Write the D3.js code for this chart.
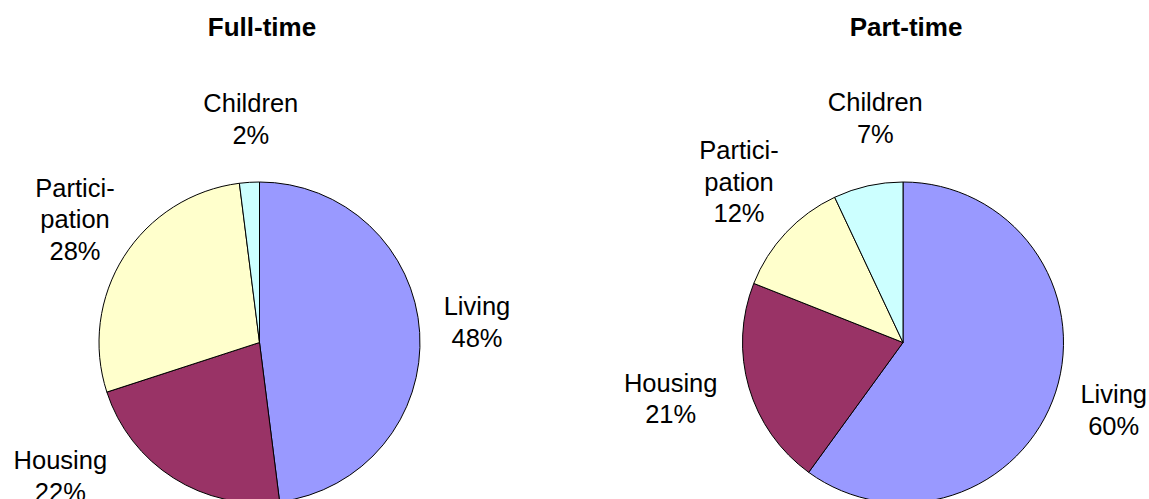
<!DOCTYPE html>
<html>
<head>
<meta charset="utf-8">
<script src="https://cdn.jsdelivr.net/npm/d3@7"></script>
<style>
  html, body { margin: 0; padding: 0; background: #ffffff; }
  svg { display: block; }
  text { font-family: "Liberation Sans", Arial, sans-serif; fill: #000; }
</style>
</head>
<body>
<svg id="chart" width="1149" height="499"></svg>
<script>
// ---- data ----
const categories = ["Living", "Housing", "Participation", "Children"];
const labelLines = [["Living"], ["Housing"], ["Partici-", "pation"], ["Children"]];
const chartTitles = ["Full-time", "Part-time"];
const fullTimeValues = [48, 22, 28, 2];
const partTimeValues = [60, 21, 12, 7];
const colors = ["#9999FF", "#993366", "#FFFFCC", "#CCFFFF"];

// ---- layout ----
const W = 1149, H = 499;
const radius = 160.5;
const panels = [
  { title: chartTitles[0], values: fullTimeValues, cx: 259.5, cy: 342.5, titleX: 262,
    labelOffsets: [[217.5, -27.5], [-199.2, 126.8], [-184.5, -145.8], [-8.7, -230.5]] },
  { title: chartTitles[1], values: partTimeValues, cx: 903, cy: 342.5, titleX: 906,
    labelOffsets: [[210.7, 60.8], [-232.3, 49.2], [-164, -183.2], [-27.7, -231.5]] }
];
const lineGap = 31.5;

const svg = d3.select("#chart");
const pie = d3.pie().sort(null).value(d => d.value);
const arc = d3.arc().innerRadius(0).outerRadius(radius);
const color = d3.scaleOrdinal().domain(categories).range(colors);

panels.forEach(p => {
  const data = categories.map((c, i) => ({ cat: c, value: p.values[i], lines: labelLines[i] }));
  const total = d3.sum(p.values);

  svg.append("text")
    .attr("x", p.titleX)
    .attr("y", 36)
    .attr("text-anchor", "middle")
    .style("font-size", "26px")
    .style("font-weight", "bold")
    .text(p.title);

  const g = svg.append("g").attr("transform", `translate(${p.cx},${p.cy})`);
  g.selectAll("path")
    .data(pie(data))
    .join("path")
    .attr("d", arc)
    .attr("fill", d => color(d.data.cat))
    .attr("stroke", "#000")
    .attr("stroke-width", 1)
    .attr("stroke-linejoin", "round");

  const labels = g.selectAll("text.lbl")
    .data(pie(data))
    .join("text")
    .attr("class", "lbl")
    .attr("text-anchor", "middle")
    .style("font-size", "25.5px");

  labels.each(function(d, i) {
    const [dx, dy] = p.labelOffsets[i];
    const lines = d.data.lines.concat([Math.round(d.data.value / total * 100) + "%"]);
    const t = d3.select(this);
    lines.forEach((ln, k) => {
      t.append("tspan")
        .attr("x", dx)
        .attr("y", dy + k * lineGap)
        .text(ln);
    });
  });
});
</script>
</body>
</html>
